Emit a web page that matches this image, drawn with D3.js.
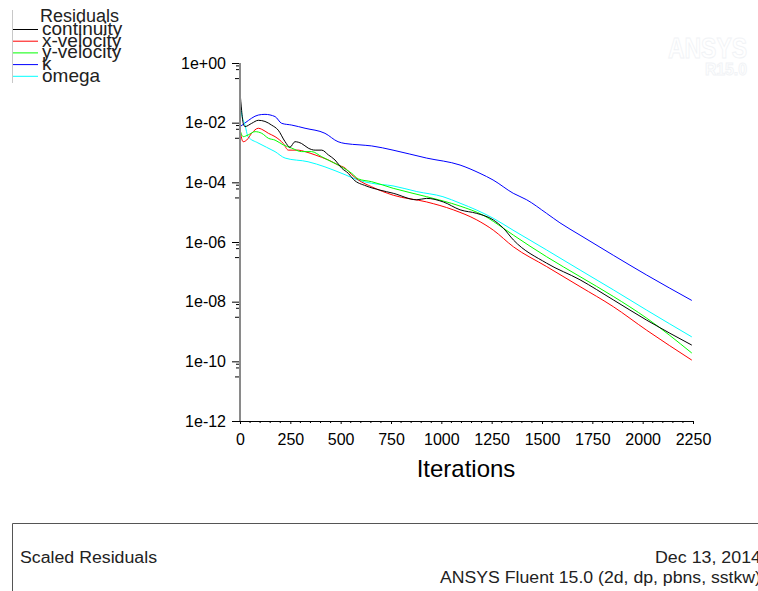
<!DOCTYPE html>
<html>
<head>
<meta charset="utf-8">
<script src="https://cdn.jsdelivr.net/npm/d3@7"></script>
<style>
html,body{margin:0;padding:0;background:#fff;overflow:hidden;}
svg{display:block;}
text{font-family:"Liberation Sans",Arial,Helvetica,sans-serif;}
</style>
</head>
<body>
<svg id="chart" width="758" height="591"></svg>
<script>
// ---- data (iteration, scaled residual) ----
const seriesNames = ["continuity", "x-velocity", "y-velocity", "k", "omega"];
const seriesColors = ["#000000", "#ff0000", "#00ff00", "#0000ff", "#00ffff"];

const continuity = [[0,1.1e-1],[8,2.6e-2],[16,9.5e-3],[25,7.4e-3],[58,9.5e-3],[91,1.2e-2],[124,1.1e-2],[157,8.3e-3],[190,5.6e-3],[224,2.3e-3],[248,1.5e-3],[273,2.3e-3],[306,2.0e-3],[339,1.4e-3],[373,1.2e-3],[406,1.2e-3],[439,8.3e-4],[472,5.6e-4],[505,3.0e-4],[538,2.0e-4],[563,1.26e-4],[626,7.6e-5],[695,5.5e-5],[761,4.3e-5],[878,2.6e-5],[927,2.9e-5],[1010,2.2e-5],[1093,1.2e-5],[1176,9.1e-6],[1258,5.5e-6],[1308,2.9e-6],[1358,1.17e-6],[1523,1.95e-7],[1689,5.4e-8],[1854,1.15e-8],[2020,2.4e-9],[2244,3.5e-10]];

const xVelocity = [[0,6.5e-3],[8,3.0e-3],[16,2.3e-3],[33,2.6e-3],[58,4.4e-3],[91,6.5e-3],[108,6.0e-3],[141,4.4e-3],[174,3.4e-3],[215,2.0e-3],[240,1.2e-3],[290,1.2e-3],[323,1.07e-3],[373,8.3e-4],[406,6.9e-4],[439,5.6e-4],[488,3.8e-4],[522,3.0e-4],[555,1.8e-4],[588,1.2e-4],[654,7.1e-5],[761,3.7e-5],[927,2.2e-5],[1059,1.2e-5],[1176,5.5e-6],[1258,2.5e-6],[1358,6.9e-7],[1523,1.5e-7],[1689,3.2e-8],[1854,6.8e-9],[2020,1.1e-9],[2244,1.1e-10]];

const yVelocity = [[0,5.6e-3],[16,3.4e-3],[41,3.9e-3],[75,5.0e-3],[108,4.4e-3],[141,3.0e-3],[174,2.6e-3],[215,1.8e-3],[257,1.4e-3],[306,1.07e-3],[356,1.07e-3],[406,7.2e-4],[455,4.9e-4],[505,3.3e-4],[555,2.0e-4],[588,1.3e-4],[654,1.05e-4],[761,6.3e-5],[927,3.3e-5],[1093,1.6e-5],[1208,7.9e-6],[1308,2.9e-6],[1358,1.7e-6],[1523,3.2e-7],[1689,6.9e-8],[1854,1.5e-8],[2020,2.8e-9],[2244,1.9e-10]];

const kResidual = [[0,7.3e-3],[25,9.8e-3],[91,1.8e-2],[124,1.9e-2],[174,1.6e-2],[207,9.5e-3],[257,8.3e-3],[323,6.5e-3],[422,4.4e-3],[487,2.3e-3],[522,2.0e-3],[596,1.8e-3],[654,1.66e-3],[760,1.2e-3],[927,6.5e-4],[1093,3.8e-4],[1192,2.0e-4],[1257,1.2e-4],[1357,4.3e-5],[1424,2.6e-5],[1523,9.1e-6],[1589,4.4e-6],[1689,1.7e-6],[1854,3.6e-7],[2020,7.8e-8],[2244,1.1e-8]];

const omega = [[0,5.0e-2],[8,2.0e-2],[25,8.3e-3],[40,3.4e-3],[89,2.1e-3],[174,1.07e-3],[224,6.5e-4],[338,4.9e-4],[422,3.3e-4],[522,1.8e-4],[586,1.2e-4],[654,9.3e-5],[760,7.6e-5],[878,4.9e-5],[1008,3.3e-5],[1093,2.0e-5],[1176,1.17e-5],[1257,6.3e-6],[1356,2.5e-6],[1523,5.4e-7],[1689,1.15e-7],[1854,2.5e-8],[2020,5.2e-9],[2244,6.6e-10]];

const xTicks = [0,250,500,750,1000,1250,1500,1750,2000,2250];
const yTickValues = [1,1e-2,1e-4,1e-6,1e-8,1e-10,1e-12];
const yTickLabels = ["1e+00","1e-02","1e-04","1e-06","1e-08","1e-10","1e-12"];

// ---- drawing ----
const svg = d3.select("#chart");
svg.append("rect").attr("width",758).attr("height",591).attr("fill","#fff");

const x = d3.scaleLinear().domain([0,2250]).range([240,693]);
const y = d3.scaleLog().domain([1e-12,1]).range([421,63]);

// watermark (very faint)
svg.append("text").attr("x",668).attr("y",58).attr("textLength",79).attr("lengthAdjust","spacingAndGlyphs")
  .attr("font-size",29).attr("font-weight","bold").attr("fill","#fff").attr("stroke","#f1f3f6").attr("stroke-width",1)
  .text("ANSYS");
svg.append("text").attr("x",705).attr("y",75).attr("textLength",42).attr("lengthAdjust","spacingAndGlyphs")
  .attr("font-size",17).attr("font-weight","bold").attr("fill","#fff").attr("stroke","#f1f3f6").attr("stroke-width",1)
  .text("R15.0");

// x axis
const xAxisG = svg.append("g").attr("transform","translate(0,421)")
  .call(d3.axisBottom(x).tickValues(xTicks).tickSize(3).tickPadding(10).tickFormat(d3.format("d")));
xAxisG.select(".domain").remove();
xAxisG.selectAll("text").attr("font-size",16).attr("fill","#000").attr("font-family","Liberation Sans, Arial, sans-serif");
xAxisG.selectAll("line").attr("stroke","#000");
const minorX = d3.range(0,2251,50).filter(v => v % 250 !== 0);
svg.append("g").selectAll("line").data(minorX).join("line")
  .attr("x1",d=>x(d)).attr("x2",d=>x(d)).attr("y1",421).attr("y2",423).attr("stroke","#000");
svg.append("line").attr("x1",x(0)-8).attr("x2",x(2250)).attr("y1",421.5).attr("y2",421.5).attr("stroke","#000");

svg.append("text").attr("x",466).attr("y",477).attr("text-anchor","middle").attr("font-size",24).text("Iterations");

// y axis
const yAxisG = svg.append("g").attr("transform","translate(240,0)")
  .call(d3.axisLeft(y).tickValues(yTickValues).tickSize(8).tickPadding(6)
    .tickFormat((d,i)=>yTickLabels[i]));
yAxisG.select(".domain").remove();
yAxisG.selectAll("text").attr("font-size",16).attr("fill","#000").attr("font-family","Liberation Sans, Arial, sans-serif");
yAxisG.selectAll("line").attr("stroke","#000");
const minorY = [];
yTickValues.slice(0,-1).forEach(v => { [0.8,0.6].forEach(f => minorY.push([v*f,4])); minorY.push([v*0.3,5]); });
svg.append("g").selectAll("line").data(minorY).join("line")
  .attr("x1",d=>240-d[1]).attr("x2",240).attr("y1",d=>y(d[0])).attr("y2",d=>y(d[0])).attr("stroke","#000");

// curves
const line = d3.line().x(d=>x(d[0])).y(d=>y(d[1])).curve(d3.curveMonotoneX);
const allSeries = [kResidual, omega, xVelocity, yVelocity, continuity];
const allColors = [seriesColors[3], seriesColors[4], seriesColors[1], seriesColors[2], seriesColors[0]];
allSeries.forEach((s,i)=>{
  svg.append("path").attr("d",line(s)).attr("fill","none").attr("stroke",allColors[i]).attr("stroke-width",1);
});

svg.append("line").attr("x1",240).attr("x2",240).attr("y1",63).attr("y2",421).attr("stroke","#8a8a8a").attr("stroke-width",2);

// legend
svg.append("line").attr("x1",12.5).attr("x2",12.5).attr("y1",10).attr("y2",83).attr("stroke","#c8c8c8");
svg.append("text").attr("x",40).attr("y",22).attr("font-size",18).attr("fill","#222").text("Residuals");
seriesNames.forEach((n,i)=>{
  const by = 35 + i*11.7;
  svg.append("line").attr("x1",13).attr("x2",38).attr("y1",by-5.5).attr("y2",by-5.5).attr("stroke",seriesColors[i]);
  svg.append("text").attr("x",42).attr("y",by).attr("font-size",19).attr("fill","#222").text(n);
});

// footer box
svg.append("path").attr("d","M12.5,591 V523.5 H760").attr("fill","none").attr("stroke","#555");
svg.append("text").attr("x",20).attr("y",563).attr("font-size",16).attr("textLength",137).attr("lengthAdjust","spacingAndGlyphs").attr("fill","#222").text("Scaled Residuals");
svg.append("text").attr("x",655).attr("y",563).attr("font-size",16).attr("textLength",106).attr("lengthAdjust","spacingAndGlyphs").attr("fill","#222").text("Dec 13, 2014");
svg.append("text").attr("x",440).attr("y",583).attr("font-size",16).attr("textLength",321).attr("lengthAdjust","spacingAndGlyphs").attr("fill","#222").text("ANSYS Fluent 15.0 (2d, dp, pbns, sstkw)");
</script>
</body>
</html>
